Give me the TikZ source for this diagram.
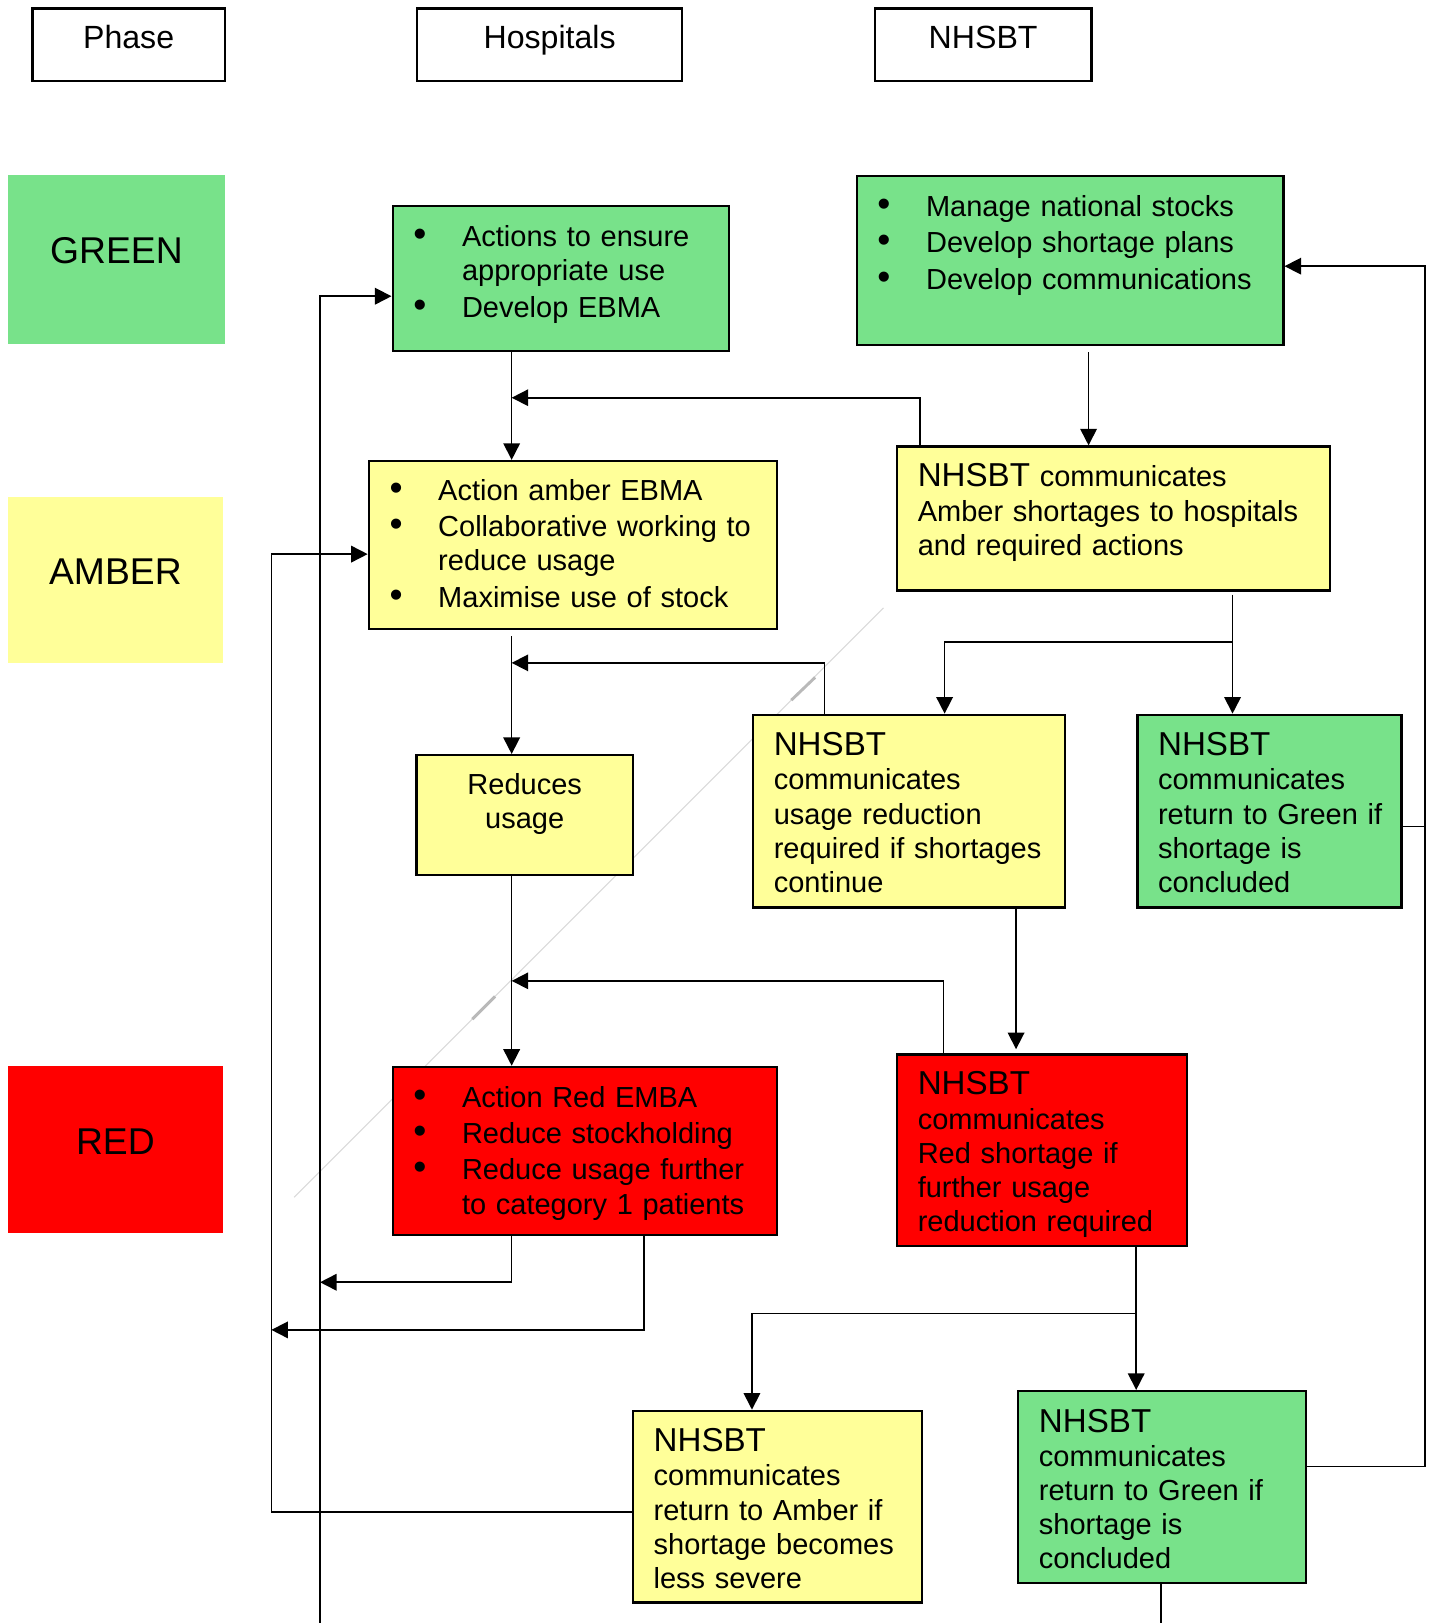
\documentclass[tikz,border=0pt]{standalone}
\usepackage{fontspec}
\setmainfont{Liberation Sans}
\usetikzlibrary{arrows.meta}

\definecolor{nhsgreen}{RGB}{120,226,138}
\definecolor{nhsyellow}{RGB}{255,255,153}
\definecolor{nhsred}{RGB}{255,0,0}

\newcommand{\blt}{\makebox[23.5pt][l]{{\fontsize{18pt}{16.5pt}\selectfont\textbullet}}}
\newcommand{\ind}{\hspace*{23.5pt}}
\newcommand{\hd}[1]{{\fontsize{16pt}{16.5pt}\selectfont #1}}

\tikzset{
  sz/.style n args={3}{text width=#1, text height=#2, text depth=#3},
  nbox/.style={draw, line width=1.1pt, anchor=north west, inner xsep=10pt, inner ysep=0pt,
    align=left, font=\fontsize{14pt}{16.5pt}\selectfont},
  headbox/.style={draw, line width=1.2pt, anchor=north west, inner sep=0pt, align=center,
    text height=19.25pt, text depth=15.75pt, font=\fontsize{15.5pt}{18pt}\selectfont},
  phasebox/.style={anchor=north west, inner sep=0pt, align=center, text height=42.5pt,
    font=\fontsize{18pt}{20pt}\selectfont},
  link/.style={line width=0.8pt},
  arr/.style={link, -{Triangle[length=8pt,width=8pt]}},
}

\begin{document}
\begin{tikzpicture}[x=0.5pt,y=-0.5pt]
\useasboundingbox (0,0) rectangle (1380,1567);

% faint scan line
\draw[gray!30, line width=0.5pt] (853,587) -- (284,1156);
\draw[gray!55, line width=1.4pt] (764,676) -- (787,654) (456,984) -- (478,962);

% column heads
\node[headbox, text width=93pt] (hphase) at (30,7) {Phase};
\node[headbox, text width=128pt] (hhosp) at (401.5,7) {Hospitals};
\node[headbox, text width=104.5pt] (hnhs) at (843.5,7) {NHSBT};

% phases
\node[phasebox, fill=nhsgreen, text width=105pt, text depth=39pt] (pgreen) at (7,169) {GREEN};
\node[phasebox, fill=nhsyellow, text width=104pt, text depth=38pt] (pamber) at (7,479) {AMBER};
\node[phasebox, fill=nhsred, text width=104pt, text depth=38pt] (pred) at (7,1029) {RED};

% hospitals
\node[nbox, fill=nhsgreen, sz={142.5pt}{19.5pt}{50.5pt}] (h1) at (378,198)
  {\blt Actions to ensure\\ \ind appropriate use\\[1pt] \blt Develop EBMA};
\node[nbox, fill=nhsyellow, sz={177pt}{19pt}{62pt}] (h2) at (355,444)
  {\blt Action amber EBMA\\[1pt] \blt Collaborative working to\\ \ind reduce usage\\[1pt] \blt Maximise use of stock};
\node[nbox, fill=nhsyellow, align=center, sz={84.5pt}{19pt}{39pt}] (h3) at (401,728)
  {Reduces\\ usage};
\node[nbox, fill=nhsred, sz={165.5pt}{19.5pt}{61.5pt}] (h4) at (378,1029)
  {\blt Action Red EMBA\\[1pt] \blt Reduce stockholding\\[1pt] \blt Reduce usage further\\ \ind to category 1 patients};

% NHSBT
\node[nbox, fill=nhsgreen, sz={186pt}{19.5pt}{62pt}] (n1) at (826,169)
  {\blt Manage national stocks\\[1pt] \blt Develop shortage plans\\[1pt] \blt Develop communications};
\node[nbox, fill=nhsyellow, sz={189pt}{19.5pt}{50pt}] (n2) at (865,430)
  {\hd{NHSBT} communicates\\ Amber shortages to hospitals\\ and required actions};
\node[nbox, fill=nhsyellow, sz={130.5pt}{19.8pt}{73.2pt}] (n3) at (726,689)
  {\hd{NHSBT}\\ communicates\\ usage reduction\\ required if shortages\\ continue};
\node[nbox, fill=nhsgreen, sz={107.5pt}{19.8pt}{73.2pt}] (n4) at (1097,689)
  {\hd{NHSBT}\\ communicates\\ \mbox{return to Green if}\\ shortage is\\ concluded};
\node[nbox, fill=nhsred, sz={120pt}{19.5pt}{73pt}] (n5) at (865,1017)
  {\hd{NHSBT}\\ communicates\\ Red shortage if\\ further usage\\ reduction required};
\node[nbox, fill=nhsyellow, sz={119.5pt}{19.8pt}{72.7pt}] (n6) at (610,1361)
  {\hd{NHSBT}\\ communicates\\ return to Amber if\\ shortage becomes\\ less severe};
\node[nbox, fill=nhsgreen, sz={119pt}{19.8pt}{72.7pt}] (n7) at (982,1342)
  {\hd{NHSBT}\\ communicates\\ return to Green if\\ shortage is\\ concluded};

% trunks and junctions
\coordinate (tk) at (494,0);
\coordinate (la) at (262,0);
\coordinate (lb) at (309,0);
\coordinate (lr) at (1376,0);
\coordinate (j1) at (1190,620);
\coordinate (j2) at (1097,1268);
\coordinate (bt1) at (309,1567);
\coordinate (bt2) at (1121,1567);

\draw[arr] (h1.south -| tk) -- (h2.north -| tk);
\draw[arr] ([yshift=-3pt]n1.south -| 1051,0) -- (n2.north -| 1051,0);
\draw[arr] (n2.north -| 888,0) |- (tk |- 0,384);
\draw[arr] ([yshift=-1.5pt]n2.south -| j1) -- (n4.north -| j1);
\draw[arr] (j1) -| (n3.north -| 912,0);
\draw[arr] (n3.north -| 796,0) |- (tk |- 0,640);
\draw[arr] ([yshift=-3pt]h2.south -| tk) -- (h3.north -| tk);
\draw[arr] (h3.south -| tk) -- (h4.north -| tk);
\draw[arr] (n3.south -| 981,0) -- ([yshift=2pt]n5.north -| 981,0);
\draw[arr] (n5.north -| 911,0) |- (tk |- 0,947);
\draw[arr] (h4.south -| tk) |- (lb |- 0,1238);
\draw[arr] (h4.south -| 622,0) |- (la |- 0,1284);
\draw[arr] (n5.south -| j2) -- (n7.north -| j2);
\draw[arr] (j2) -| (n6.north -| 726,0);
\draw[arr] (n6.west |- 0,1460) -| (la |- 0,535) -- (h2.west |- 0,535);
\draw[arr] (bt1) |- (h1.west |- 0,286);
\draw[arr] (n7.east |- 0,1416) -| (lr |- 0,257) -- (n1.east |- 0,257);
\draw[link] (n4.east |- 0,798) -- (lr |- 0,798);
\draw[link] (n7.south -| bt2) -- (bt2);
\end{tikzpicture}
\end{document}
